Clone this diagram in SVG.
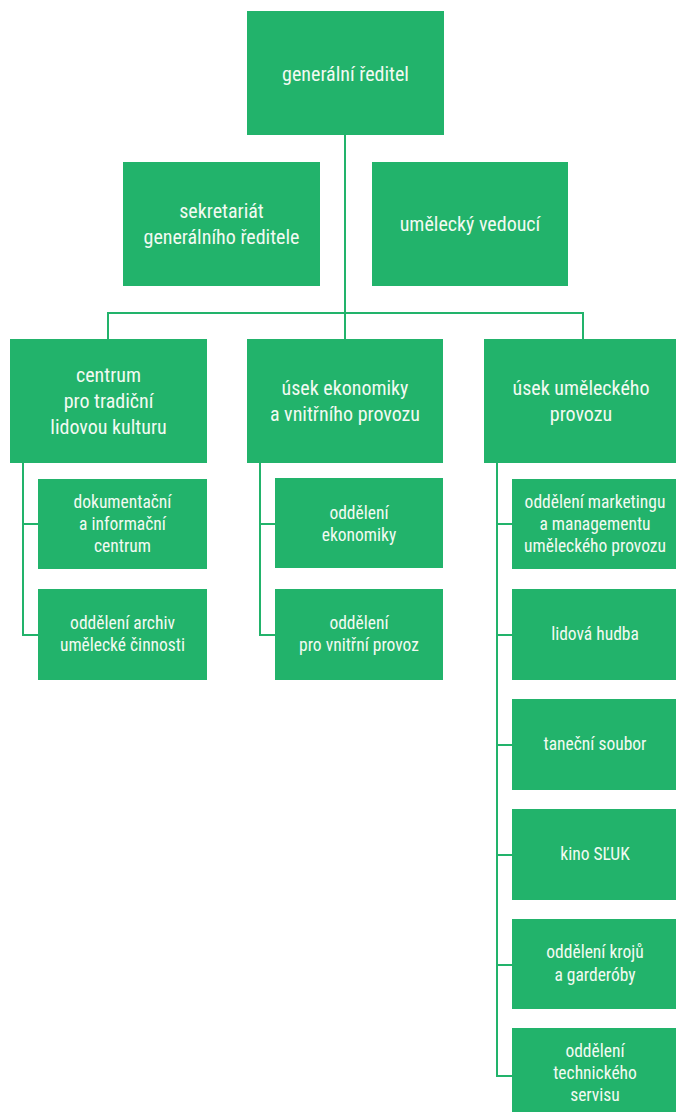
<svg xmlns="http://www.w3.org/2000/svg" width="676" height="1112" viewBox="0 0 676 1112">
<style>
.b{fill:#22b36b}
.t{fill:#f2faf2;font-family:"Roboto Condensed","Roboto","Liberation Sans Narrow",sans-serif;font-stretch:condensed;text-anchor:middle}
.l{font-size:20px}
.s{font-size:17.5px}
.c{fill:none;stroke:#22b36b;stroke-width:2}
</style>
<rect width="676" height="1112" fill="#fff"/>
<g id="connectors">
<path class="c" d="M345 135V339M108 339V313H583V339"/>
<path class="c" d="M23 463V635H38M23 524H38"/>
<path class="c" d="M260 463V635H275M260 524H275"/>
<path class="c" d="M497 463V1076H512M497 524H512M497 635H512M497 745H512M497 855H512M497 965H512"/>
</g>
<g id="n1"><rect class="b" x="247" y="11" width="197" height="124"/><text class="t l" x="345.5" y="81">generální ředitel</text></g>
<g id="n2"><rect class="b" x="123" y="162" width="197" height="124"/><text class="t l" x="221.5" y="218">sekretariát</text><text class="t l" x="221.5" y="244">generálního ředitele</text></g>
<g id="n3"><rect class="b" x="372" y="162" width="196" height="124"/><text class="t l" x="470" y="231">umělecký vedoucí</text></g>
<g id="n4"><rect class="b" x="10" y="339" width="197" height="124"/><text class="t l" x="108.5" y="382">centrum</text><text class="t l" x="108.5" y="408">pro tradiční</text><text class="t l" x="108.5" y="434">lidovou kulturu</text></g>
<g id="n5"><rect class="b" x="247" y="339" width="196" height="124"/><text class="t l" x="345" y="395">úsek ekonomiky</text><text class="t l" x="345" y="421">a vnitřního provozu</text></g>
<g id="n6"><rect class="b" x="484" y="339" width="192" height="124"/><text class="t l" x="581" y="395">úsek uměleckého</text><text class="t l" x="581" y="421">provozu</text></g>
<g id="n7"><rect class="b" x="38" y="479" width="169" height="90"/><text class="t s" x="122.5" y="508">dokumentační</text><text class="t s" x="122.5" y="530">a informační</text><text class="t s" x="122.5" y="552">centrum</text></g>
<g id="n8"><rect class="b" x="38" y="589" width="169" height="91"/><text class="t s" x="122.5" y="629">oddělení archiv</text><text class="t s" x="122.5" y="651">umělecké činnosti</text></g>
<g id="n9"><rect class="b" x="275" y="478" width="168" height="90"/><text class="t s" x="359" y="519">oddělení</text><text class="t s" x="359" y="541">ekonomiky</text></g>
<g id="n10"><rect class="b" x="275" y="589" width="168" height="91"/><text class="t s" x="359" y="629">oddělení</text><text class="t s" x="359" y="651">pro vnitřní provoz</text></g>
<g id="n11"><rect class="b" x="512" y="479" width="164" height="90"/><text class="t s" x="595" y="508">oddělení marketingu</text><text class="t s" x="595" y="530">a managementu</text><text class="t s" x="595" y="552">uměleckého provozu</text></g>
<g id="n12"><rect class="b" x="512" y="589" width="164" height="91"/><text class="t s" x="595" y="640">lidová hudba</text></g>
<g id="n13"><rect class="b" x="512" y="699" width="164" height="91"/><text class="t s" x="595" y="750">taneční soubor</text></g>
<g id="n14"><rect class="b" x="512" y="809" width="164" height="91"/><text class="t s" x="595" y="860">kino SĽUK</text></g>
<g id="n15"><rect class="b" x="512" y="919" width="164" height="90"/><text class="t s" x="595" y="958">oddělení krojů</text><text class="t s" x="595" y="981">a garderóby</text></g>
<g id="n16"><rect class="b" x="512" y="1028" width="164" height="84"/><text class="t s" x="595" y="1057">oddělení</text><text class="t s" x="595" y="1079">technického</text><text class="t s" x="595" y="1101">servisu</text></g>
</svg>
